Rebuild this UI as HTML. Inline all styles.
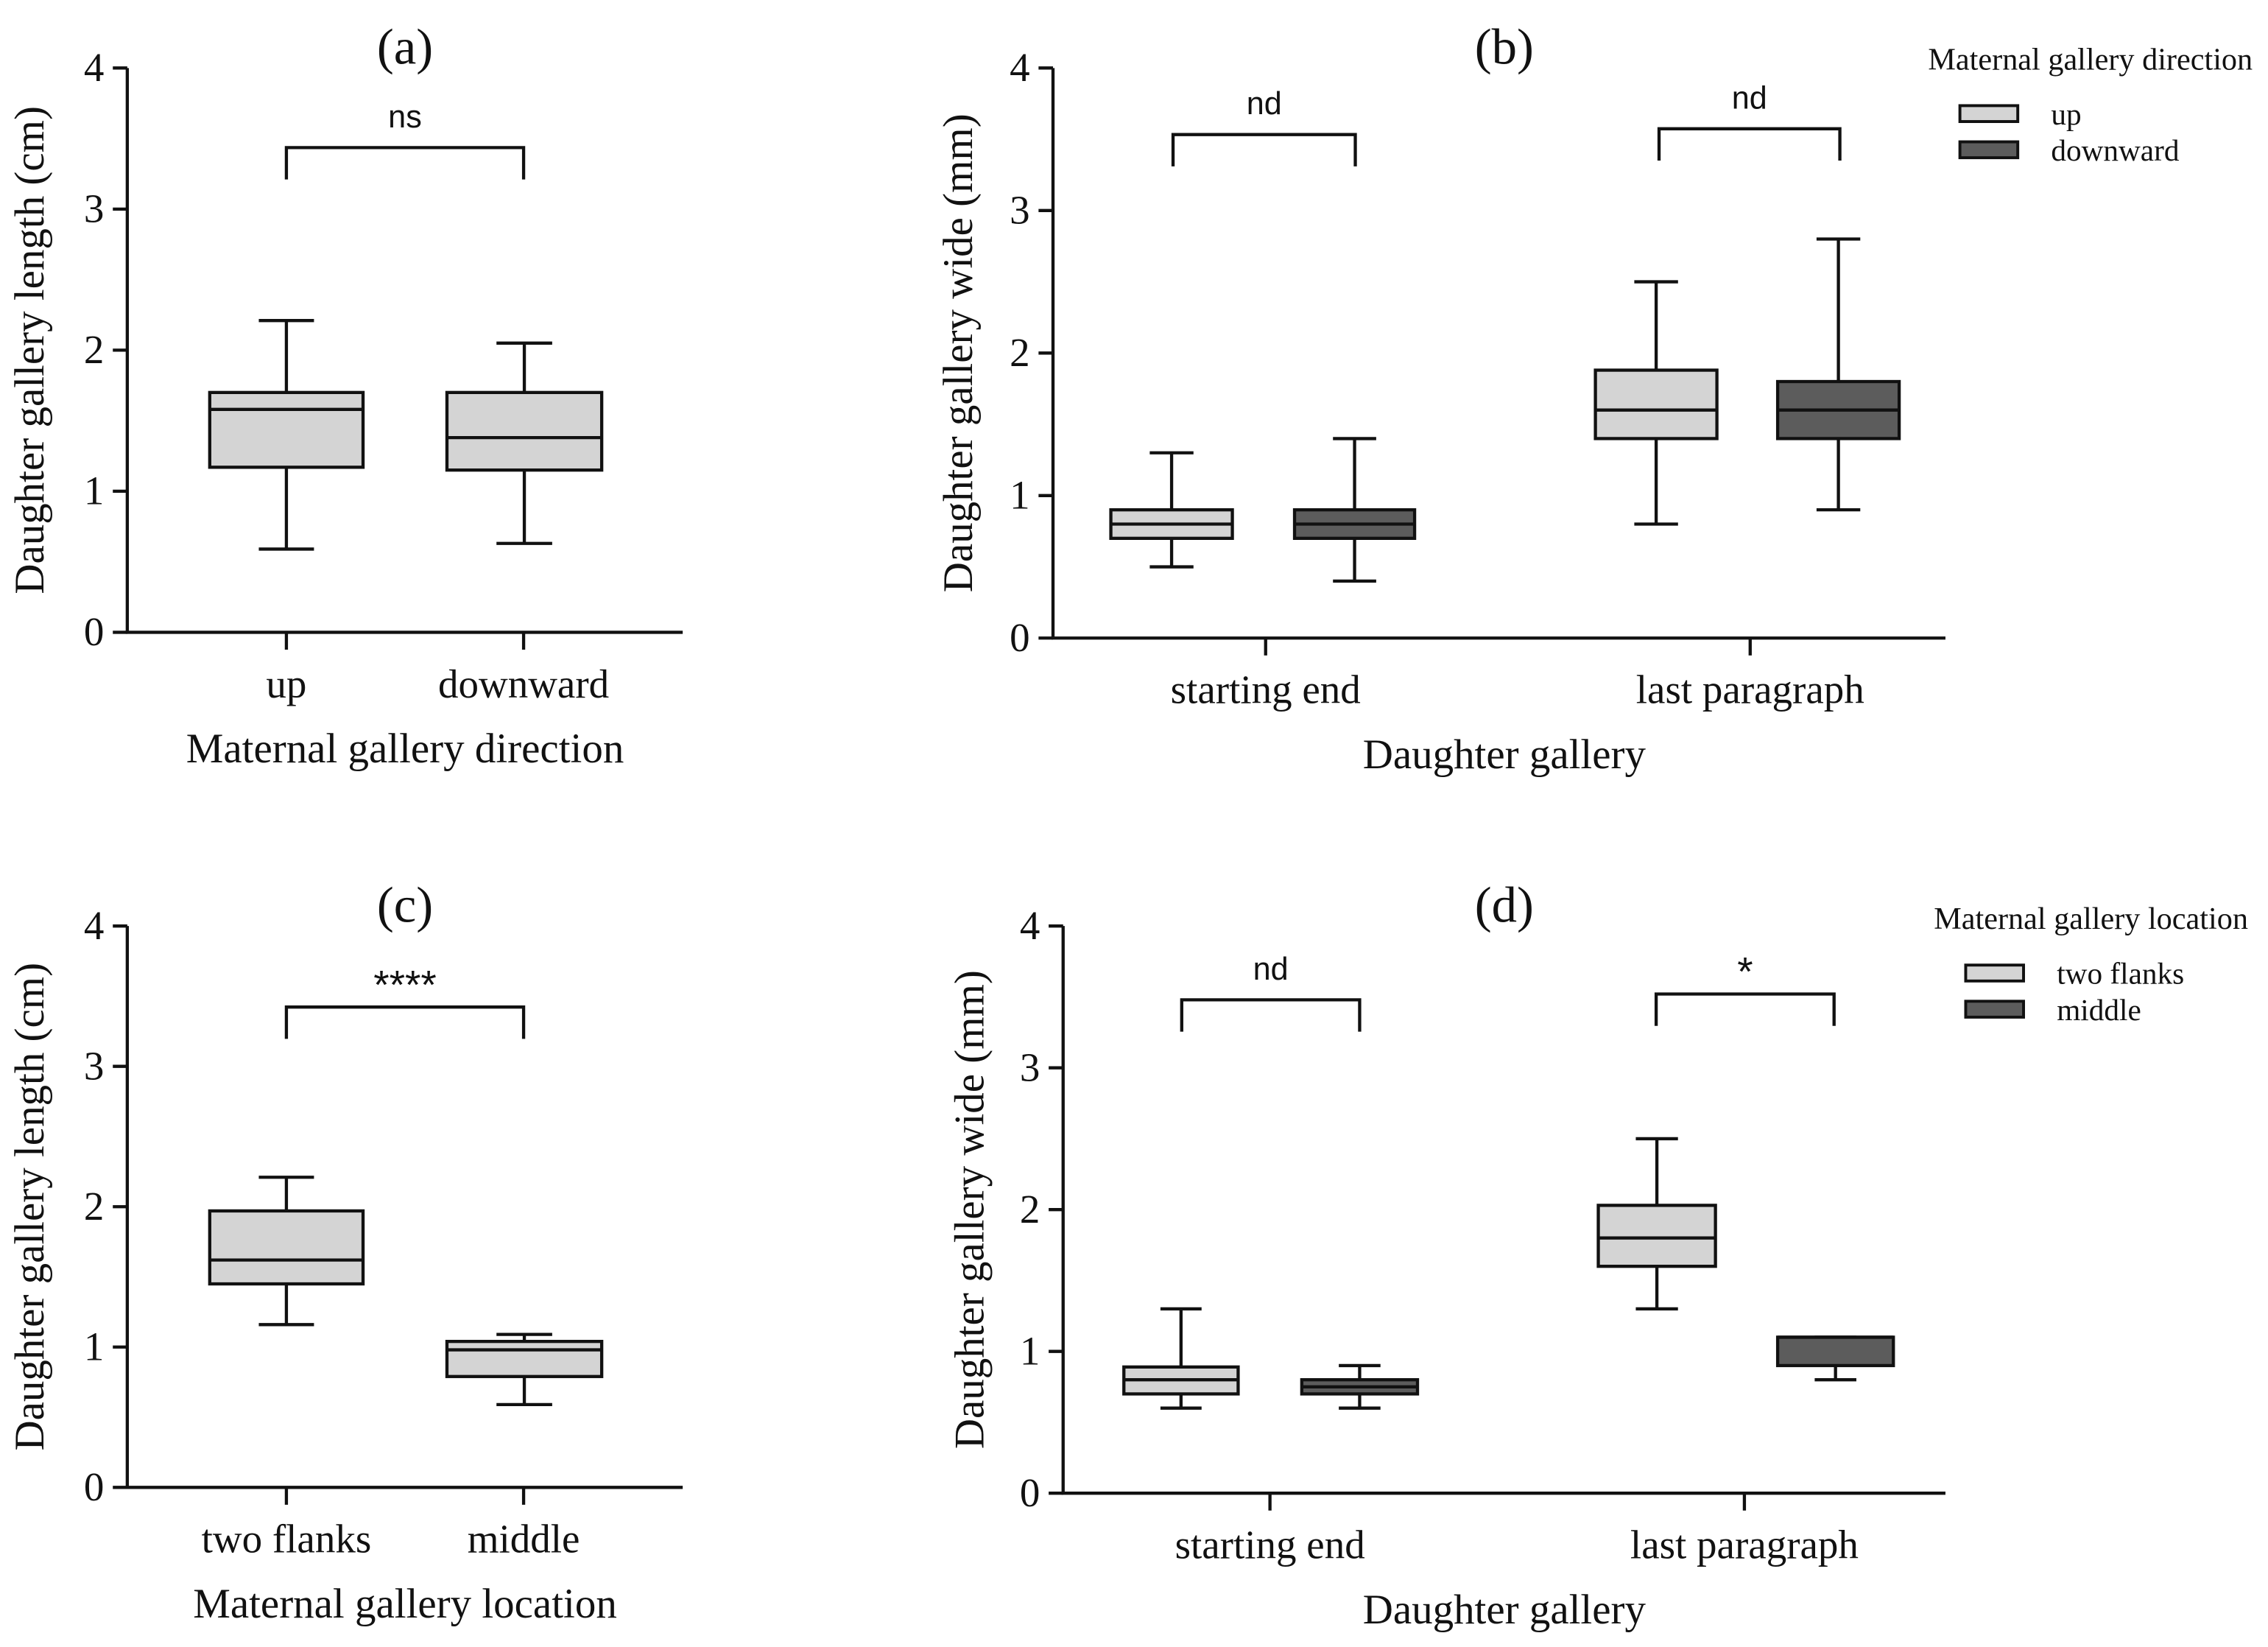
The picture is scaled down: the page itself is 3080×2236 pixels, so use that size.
<!DOCTYPE html>
<html><head><meta charset="utf-8"><style>
html,body{margin:0;padding:0;background:#fff}
svg{display:block}
.serif{font-family:"Liberation Serif",serif;fill:#111}
.sans{font-family:"Liberation Sans",sans-serif;fill:#111}
</style></head><body>
<svg id="fig" width="3080" height="2236" viewBox="0 0 1568 1138.3" xmlns="http://www.w3.org/2000/svg"></svg>
<script>
// Panel data
const aCats = ["up","downward"];
const aStats = [[0.59,1.17,1.58,1.70,2.21],[0.63,1.15,1.38,1.70,2.05]];
const bCats = ["starting end","last paragraph"];
const bUp = [[0.5,0.7,0.8,0.9,1.3],[0.8,1.4,1.6,1.88,2.5]];
const bDown = [[0.4,0.7,0.8,0.9,1.4],[0.9,1.4,1.6,1.8,2.8]];
const cCats = ["two flanks","middle"];
const cStats = [[1.16,1.45,1.62,1.97,2.21],[0.59,0.79,0.98,1.04,1.09]];
const dCats = ["starting end","last paragraph"];
const dFlank = [[0.6,0.7,0.8,0.89,1.3],[1.3,1.6,1.8,2.03,2.5]];
const dMid = [[0.6,0.7,0.75,0.8,0.9],[0.8,0.9,1.1,1.1,1.1]];
const yTicks = [0,1,2,3,4];

const svg = document.getElementById('fig');
const NS = 'http://www.w3.org/2000/svg';
function mk(tag, attrs, parent){const e=document.createElementNS(NS,tag);for(const k in attrs)e.setAttribute(k,attrs[k]);(parent||svg).appendChild(e);return e;}
function txt(s,x,y,size,cls,anchor,name,parent){const t=mk('text',{x:x,y:y,'font-size':size,'class':cls,'text-anchor':anchor||'middle'},parent);t.textContent=s;


return t;}

function panel(cfg){
  const g=mk('g',{});
  
  
  const y=v=>cfg.y0-(cfg.y0-cfg.y4)*v/4;
  const ax=mk('path',{d:`M${cfg.ax},${cfg.y4}V${cfg.y0}H${cfg.xend}`,stroke:'#111','stroke-width':2.2,fill:'none'},g);
  
  
  yTicks.forEach(v=>{
    const t=mk('line',{x1:cfg.ax-10,x2:cfg.ax,y1:y(v),y2:y(v),stroke:'#111','stroke-width':2.2},g);
    
    
    txt(String(v),cfg.ax-16,y(v)+9,28,'serif','end','y-tick-label',g);
  });
  cfg.cats.forEach((c,i)=>{
    const t=mk('line',{x1:cfg.tx[i],x2:cfg.tx[i],y1:cfg.y0,y2:cfg.y0+12,stroke:'#111','stroke-width':2.2},g);
    
    
    txt(c,cfg.tx[i],cfg.y0+45,28,'serif','middle','x-tick-label',g);
  });
  txt(cfg.xtitle,cfg.xtx,cfg.y0+90,29,'serif','middle','x-axis-title',g);
  const yt=txt(cfg.ytitle,0,0,29,'serif','middle','y-axis-title',g);
  yt.setAttribute('transform',`translate(${cfg.ytx},${(cfg.y0+cfg.y4)/2}) rotate(-90)`);
  txt(cfg.title,cfg.xtx,cfg.y4-3,35,'serif','middle','panel-title',g);
  cfg.boxes.forEach(b=>{
    const s=b.s, cx=(b.x1+b.x2)/2, hw=(b.x2-b.x1)*0.18;
    const bg=mk('g',{},g);
    
    
    mk('path',{d:`M${cx},${y(s[0])}V${y(s[1])}M${cx},${y(s[3])}V${y(s[4])}M${cx-hw},${y(s[0])}H${cx+hw}M${cx-hw},${y(s[4])}H${cx+hw}`,stroke:'#111','stroke-width':2.2,fill:'none'},bg);
    mk('rect',{x:b.x1,y:y(s[3]),width:b.x2-b.x1,height:y(s[1])-y(s[3]),fill:b.f,stroke:'#111','stroke-width':2.2},bg);
    mk('line',{x1:b.x1,x2:b.x2,y1:y(s[2]),y2:y(s[2]),stroke:'#111','stroke-width':2.2},bg);
  });
  cfg.brackets.forEach(br=>{
    const p=mk('path',{d:`M${br.a},${br.y+22}V${br.y}H${br.b}V${br.y+22}`,stroke:'#111','stroke-width':2.2,fill:'none'},g);
    
    
    const small=br.t==='nd'||br.t==='ns';
    txt(br.t,(br.a+br.b)/2,br.y-(small?14:6),small?22:28,'sans','middle','significance-label',g);
  });
  if(cfg.legend){
    const L=cfg.legend;
    const lg=mk('g',{},g);
    
    
    txt(L.title,L.x,L.y,21.5,'serif','start','legend-title',lg);
    L.items.forEach((it,i)=>{
      const yy=L.y+31+i*25;
      const r=mk('rect',{x:L.x+22,y:yy-6,width:40,height:11,fill:it.f,stroke:'#111','stroke-width':2},lg);
      
      
      txt(it.t,L.x+85,yy+7,21,'serif','start','legend-entry',lg);
    });
  }
}
const LG='#d4d4d4', DG='#5c5c5c';
panel({name:'panel-a',title:'(a)',ax:88,y0:437,y4:47,xend:472,tx:[198,362],cats:aCats,xtx:280,ytx:30,
  xtitle:'Maternal gallery direction',ytitle:'Daughter gallery length (cm)',
  boxes:[{n:'up',x1:145,x2:251,s:aStats[0],f:LG},{n:'downward',x1:309,x2:416,s:aStats[1],f:LG}],
  brackets:[{a:198,b:362,y:102,t:'ns'}]});
panel({name:'panel-b',title:'(b)',ax:728,y0:441,y4:47,xend:1345,tx:[875,1210],cats:bCats,xtx:1040,ytx:672,
  xtitle:'Daughter gallery',ytitle:'Daughter gallery wide (mm)',
  boxes:[{n:'start-up',x1:768,x2:852,s:bUp[0],f:LG},{n:'start-down',x1:895,x2:978,s:bDown[0],f:DG},
         {n:'last-up',x1:1103,x2:1187,s:bUp[1],f:LG},{n:'last-down',x1:1229,x2:1313,s:bDown[1],f:DG}],
  brackets:[{a:811,b:937,y:93,t:'nd'},{a:1147,b:1272,y:89,t:'nd'}],
  legend:{title:'Maternal gallery direction',x:1333,y:48,items:[{t:'up',f:LG},{t:'downward',f:DG}]}});
panel({name:'panel-c',title:'(c)',ax:88,y0:1028,y4:640,xend:472,tx:[198,362],cats:cCats,xtx:280,ytx:30,
  xtitle:'Maternal gallery location',ytitle:'Daughter gallery length (cm)',
  boxes:[{n:'two-flanks',x1:145,x2:251,s:cStats[0],f:LG},{n:'middle',x1:309,x2:416,s:cStats[1],f:LG}],
  brackets:[{a:198,b:362,y:696,t:'****'}]});
panel({name:'panel-d',title:'(d)',ax:735,y0:1032,y4:640,xend:1345,tx:[878,1206],cats:dCats,xtx:1040,ytx:680,
  xtitle:'Daughter gallery',ytitle:'Daughter gallery wide (mm)',
  boxes:[{n:'start-flanks',x1:777,x2:856,s:dFlank[0],f:LG},{n:'start-middle',x1:900,x2:980,s:dMid[0],f:DG},
         {n:'last-flanks',x1:1105,x2:1186,s:dFlank[1],f:LG},{n:'last-middle',x1:1229,x2:1309,s:dMid[1],f:DG}],
  brackets:[{a:817,b:940,y:691,t:'nd'},{a:1145,b:1268,y:687,t:'*'}],
  legend:{title:'Maternal gallery location',x:1337,y:642,items:[{t:'two flanks',f:LG},{t:'middle',f:DG}]}});
</script>
</body></html>
